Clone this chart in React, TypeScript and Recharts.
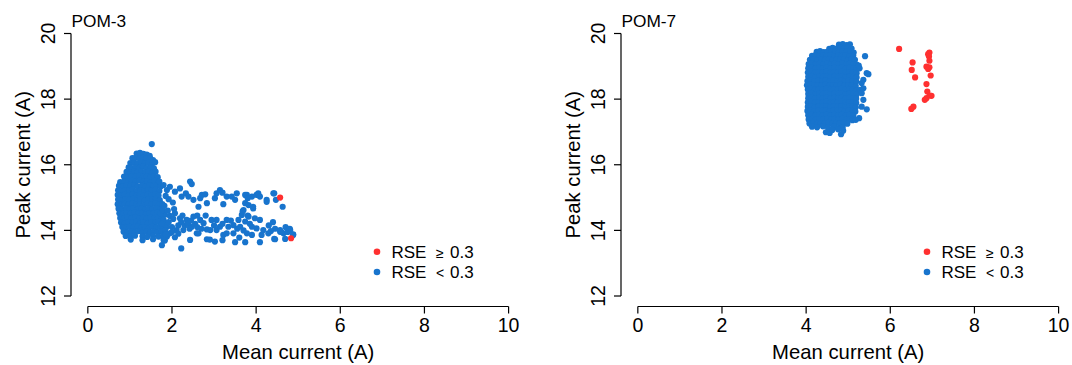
import React from "react";
import { ScatterChart, Scatter, XAxis, YAxis, ReferenceLine } from "recharts";

const FONT = '"Liberation Sans", Arial, Helvetica, sans-serif';
const BLUE = "#1874CD";
const RED = "#FF3030";

const xTicks = [0, 2, 4, 6, 8, 10];
const yTicks = [12, 14, 16, 18, 20];
const xLabel = "Mean current (A)";
const yLabel = "Peak current (A)";
const legendLabels = [
  { op: "\u2265", val: "0.3" },
  { op: "<", val: "0.3" },
];

type Pt = [number, number];

// POM-3, RSE < 0.3
const pom3Blue: Pt[] = [
  [1.52, 16.63],
  [1.16, 16.34], [1.24, 16.36], [1.32, 16.33], [1.40, 16.31], [1.47, 16.27],
  [1.06, 16.20], [1.14, 16.22], [1.23, 16.19], [1.31, 16.21], [1.39, 16.18], [1.48, 16.20], [1.55, 16.14],
  [1.01, 16.05], [1.10, 16.07], [1.19, 16.04], [1.27, 16.08], [1.36, 16.05], [1.44, 16.06], [1.53, 16.03], [1.60, 16.08],
  [0.97, 15.92], [1.05, 15.90], [1.14, 15.93], [1.23, 15.91], [1.31, 15.94], [1.40, 15.90], [1.49, 15.92], [1.57, 15.89],
  [0.92, 15.78], [1.01, 15.76], [1.10, 15.79], [1.18, 15.77], [1.27, 15.80], [1.36, 15.77], [1.44, 15.78], [1.53, 15.76], [1.61, 15.79],
  [0.86, 15.64], [0.95, 15.62], [1.04, 15.65], [1.13, 15.63], [1.22, 15.66], [1.31, 15.63], [1.40, 15.64], [1.48, 15.61], [1.57, 15.65], [1.66, 15.62],
  [0.77, 15.47], [0.87, 15.50], [0.96, 15.48], [1.05, 15.51], [1.14, 15.49], [1.23, 15.52], [1.32, 15.48], [1.41, 15.50], [1.50, 15.47], [1.59, 15.51], [1.68, 15.48],
  [0.74, 15.36], [0.83, 15.34], [0.92, 15.37], [1.01, 15.35], [1.10, 15.38], [1.19, 15.34], [1.28, 15.36], [1.37, 15.33], [1.46, 15.37], [1.55, 15.35], [1.64, 15.38], [1.73, 15.34],
  [0.72, 15.22], [0.80, 15.20], [0.89, 15.23], [0.98, 15.21], [1.07, 15.24], [1.16, 15.20], [1.25, 15.22], [1.34, 15.19], [1.43, 15.23], [1.52, 15.21], [1.61, 15.24], [1.70, 15.20],
  [0.71, 15.08], [0.79, 15.06], [0.88, 15.09], [0.97, 15.07], [1.06, 15.10], [1.15, 15.06], [1.24, 15.08], [1.33, 15.05], [1.42, 15.09], [1.51, 15.07], [1.60, 15.10], [1.68, 15.06],
  [0.72, 14.94], [0.81, 14.92], [0.90, 14.95], [0.99, 14.93], [1.08, 14.96], [1.17, 14.92], [1.26, 14.94], [1.35, 14.91], [1.44, 14.95], [1.53, 14.93], [1.62, 14.96], [1.71, 14.92],
  [0.71, 14.80], [0.79, 14.78], [0.88, 14.81], [0.97, 14.79], [1.06, 14.82], [1.15, 14.78], [1.24, 14.80], [1.33, 14.77], [1.42, 14.81], [1.51, 14.79], [1.60, 14.82], [1.69, 14.78], [1.77, 14.80],
  [0.73, 14.66], [0.82, 14.64], [0.91, 14.67], [1.00, 14.65], [1.09, 14.68], [1.18, 14.64], [1.27, 14.66], [1.36, 14.63], [1.45, 14.67], [1.54, 14.65], [1.63, 14.68], [1.72, 14.64],
  [0.75, 14.52], [0.84, 14.50], [0.93, 14.53], [1.02, 14.51], [1.11, 14.54], [1.20, 14.50], [1.29, 14.52], [1.38, 14.49], [1.47, 14.53], [1.56, 14.51], [1.65, 14.54], [1.74, 14.50], [1.83, 14.48],
  [0.77, 14.38], [0.86, 14.36], [0.95, 14.39], [1.04, 14.37], [1.13, 14.40], [1.22, 14.36], [1.31, 14.38], [1.40, 14.35], [1.49, 14.39], [1.58, 14.37], [1.67, 14.40], [1.76, 14.36],
  [0.79, 14.24], [0.88, 14.22], [0.97, 14.25], [1.06, 14.23], [1.15, 14.26], [1.24, 14.22], [1.33, 14.24], [1.42, 14.21], [1.51, 14.25], [1.60, 14.23], [1.69, 14.26], [1.78, 14.22], [1.87, 14.20],
  [0.82, 14.10], [0.91, 14.08], [1.00, 14.11], [1.09, 14.09], [1.18, 14.12], [1.27, 14.08], [1.36, 14.10], [1.45, 14.07], [1.54, 14.11], [1.63, 14.09], [1.72, 14.12], [1.81, 14.08],
  [0.85, 13.96], [0.94, 13.94], [1.03, 13.97], [1.12, 13.95], [1.21, 13.98], [1.30, 13.94], [1.39, 13.96], [1.48, 13.93], [1.57, 13.97], [1.66, 13.95], [1.75, 13.98],
  [0.90, 13.83], [1.01, 13.81], [1.12, 13.84], [1.30, 13.82], [1.41, 13.80], [1.55, 13.83], [1.68, 13.81], [1.79, 13.84],
  [1.02, 13.72], [1.30, 13.70], [1.55, 13.73], [1.83, 13.69],
  // upper tail band
  [1.70, 15.49], [1.80, 15.38], [1.88, 15.23], [1.95, 15.33], [2.07, 15.18], [2.19, 15.28], [2.23, 15.03], [2.33, 15.13],
  [2.43, 15.49], [2.47, 15.41], [2.39, 15.03], [2.51, 14.93], [2.67, 14.98], [2.71, 15.08], [2.79, 15.10], [2.63, 14.72],
  [2.83, 14.83], [3.02, 14.98], [3.06, 15.13], [3.14, 15.23], [3.20, 15.15], [3.22, 14.80], [3.30, 15.03], [3.42, 15.03],
  [3.50, 14.93], [3.54, 15.13], [3.70, 14.62], [3.74, 14.83], [3.78, 15.08], [3.82, 14.77], [3.90, 15.03], [3.93, 14.67],
  [4.01, 15.08], [4.05, 15.13], [4.09, 15.03], [4.25, 14.93], [4.41, 15.13], [4.47, 14.93], [4.63, 14.72], [4.43, 15.13],
  [3.74, 15.08], [3.80, 14.98], [3.93, 14.72], [4.25, 14.87], [1.92, 14.95], [2.02, 14.85], [1.85, 15.05],
  // lower tail band
  [1.76, 13.55], [1.80, 13.71], [1.88, 13.81], [2.07, 13.79], [2.22, 13.45], [2.43, 13.71], [2.59, 13.91], [2.83, 13.73],
  [3.02, 13.66], [3.06, 14.01], [3.22, 13.86], [3.50, 13.64], [3.74, 13.64], [3.78, 13.91], [3.90, 13.86], [4.09, 13.64],
  [4.13, 13.86], [4.29, 13.91], [4.45, 13.73], [4.57, 14.01], [4.65, 13.91], [4.81, 14.01], [4.88, 13.86], [4.01, 14.06],
  [3.97, 14.37], [3.82, 14.42], [3.66, 14.47], [3.58, 14.32], [3.46, 14.16], [3.34, 14.11], [3.14, 14.11], [2.94, 14.32],
  [2.83, 14.03], [2.67, 14.32], [2.51, 14.42], [2.35, 14.32], [2.19, 14.37], [2.07, 14.52], [1.95, 14.44], [1.88, 14.11],
  [1.80, 14.32], [1.72, 14.52], [2.27, 14.01], [2.47, 14.11], [2.75, 14.22], [2.91, 14.01], [3.30, 14.32], [3.46, 13.91],
  [3.62, 14.11], [3.74, 14.27], [3.90, 14.11], [4.09, 14.32], [4.17, 14.01], [3.30, 13.91], [3.06, 14.32], [2.63, 13.91],
  [2.11, 14.01], [1.95, 13.91], [1.76, 14.20], [1.84, 14.00], [1.92, 14.25], [2.00, 14.10], [2.03, 14.35], [2.15, 14.15],
  [2.22, 14.25], [2.30, 14.15], [2.38, 14.20], [2.42, 14.05], [2.55, 14.20], [2.60, 14.10], [2.70, 14.05], [1.85, 13.88],
  [2.00, 13.95], [2.15, 13.90], [1.78, 14.62], [1.90, 14.60], [1.82, 14.75], [2.05, 14.65], [2.25, 14.45], [2.45, 14.30],
  [2.60, 14.45], [2.80, 14.45], [3.00, 14.15], [3.20, 14.20], [3.40, 14.30], [3.55, 14.05], [3.70, 14.00], [3.85, 14.20],
  [3.60, 13.78], [3.20, 13.70], [2.90, 13.72], [3.80, 14.45], [3.68, 14.58], [4.30, 14.15], [4.45, 14.05], [4.40, 14.25],
  [4.60, 13.95], [4.75, 13.95], [4.70, 14.10], [4.79, 14.03], [4.69, 13.74], [4.43, 13.74], [4.35, 13.98], [4.57, 13.96],
  [4.88, 13.88], [4.80, 14.05],
];

// POM-3, RSE >= 0.3
const pom3Red: Pt[] = [
  [4.57, 15.0],
  [4.83, 13.76],
];

// POM-7, RSE < 0.3
const pom7Blue: Pt[] = [
  [4.78, 19.66], [4.87, 19.68], [4.96, 19.65], [5.04, 19.67],
  [4.55, 19.53], [4.63, 19.56], [4.72, 19.54], [4.81, 19.57], [4.90, 19.55], [4.99, 19.56], [5.08, 19.54],
  [4.25, 19.44], [4.33, 19.46], [4.42, 19.43], [4.51, 19.45], [4.60, 19.44], [4.69, 19.46], [4.78, 19.43], [4.87, 19.45], [4.96, 19.44], [5.05, 19.46], [5.13, 19.42],
  [4.14, 19.32], [4.22, 19.34], [4.31, 19.31], [4.40, 19.33], [4.49, 19.32], [4.58, 19.34], [4.67, 19.31], [4.76, 19.33], [4.85, 19.32], [4.94, 19.34], [5.03, 19.31], [5.12, 19.33],
  [4.09, 19.20], [4.18, 19.22], [4.27, 19.19], [4.36, 19.21], [4.45, 19.20], [4.54, 19.22], [4.63, 19.19], [4.72, 19.21], [4.81, 19.20], [4.90, 19.22], [4.99, 19.19], [5.08, 19.21], [5.16, 19.20],
  [4.06, 19.07], [4.14, 19.09], [4.23, 19.06], [4.32, 19.08], [4.41, 19.07], [4.50, 19.09], [4.59, 19.06], [4.68, 19.08], [4.77, 19.07], [4.86, 19.09], [4.95, 19.06], [5.04, 19.08], [5.13, 19.07], [5.20, 19.05],
  [4.05, 18.94], [4.13, 18.96], [4.22, 18.93], [4.31, 18.95], [4.40, 18.94], [4.49, 18.96], [4.58, 18.93], [4.67, 18.95], [4.76, 18.94], [4.85, 18.96], [4.94, 18.93], [5.03, 18.95], [5.12, 18.94], [5.19, 18.92],
  [4.04, 18.81], [4.12, 18.83], [4.21, 18.80], [4.30, 18.82], [4.39, 18.81], [4.48, 18.83], [4.57, 18.80], [4.66, 18.82], [4.75, 18.81], [4.84, 18.83], [4.93, 18.80], [5.02, 18.82], [5.11, 18.81], [5.20, 18.79],
  [4.05, 18.68], [4.13, 18.70], [4.22, 18.67], [4.31, 18.69], [4.40, 18.68], [4.49, 18.70], [4.58, 18.67], [4.67, 18.69], [4.76, 18.68], [4.85, 18.70], [4.94, 18.67], [5.03, 18.69], [5.12, 18.68], [5.20, 18.66],
  [4.03, 18.55], [4.11, 18.57], [4.20, 18.54], [4.29, 18.56], [4.38, 18.55], [4.47, 18.57], [4.56, 18.54], [4.65, 18.56], [4.74, 18.55], [4.83, 18.57], [4.92, 18.54], [5.01, 18.56], [5.10, 18.55], [5.19, 18.53],
  [4.02, 18.42], [4.10, 18.44], [4.19, 18.41], [4.28, 18.43], [4.37, 18.42], [4.46, 18.44], [4.55, 18.41], [4.64, 18.43], [4.73, 18.42], [4.82, 18.44], [4.91, 18.41], [5.00, 18.43], [5.09, 18.42], [5.18, 18.40],
  [4.04, 18.29], [4.12, 18.31], [4.21, 18.28], [4.30, 18.30], [4.39, 18.29], [4.48, 18.31], [4.57, 18.28], [4.66, 18.30], [4.75, 18.29], [4.84, 18.31], [4.93, 18.28], [5.02, 18.30], [5.11, 18.29], [5.20, 18.27],
  [4.05, 18.16], [4.13, 18.18], [4.22, 18.15], [4.31, 18.17], [4.40, 18.16], [4.49, 18.18], [4.58, 18.15], [4.67, 18.17], [4.76, 18.16], [4.85, 18.18], [4.94, 18.15], [5.03, 18.17], [5.12, 18.16], [5.20, 18.14],
  [4.05, 18.03], [4.13, 18.05], [4.22, 18.02], [4.31, 18.04], [4.40, 18.03], [4.49, 18.05], [4.58, 18.02], [4.67, 18.04], [4.76, 18.03], [4.85, 18.05], [4.94, 18.02], [5.03, 18.04], [5.12, 18.03], [5.19, 18.01],
  [4.04, 17.90], [4.12, 17.92], [4.21, 17.89], [4.30, 17.91], [4.39, 17.90], [4.48, 17.92], [4.57, 17.89], [4.66, 17.91], [4.75, 17.90], [4.84, 17.92], [4.93, 17.89], [5.02, 17.91], [5.11, 17.90], [5.19, 17.88],
  [4.04, 17.77], [4.12, 17.79], [4.21, 17.76], [4.30, 17.78], [4.39, 17.77], [4.48, 17.79], [4.57, 17.76], [4.66, 17.78], [4.75, 17.77], [4.84, 17.79], [4.93, 17.76], [5.02, 17.78], [5.11, 17.77], [5.18, 17.75],
  [4.03, 17.64], [4.11, 17.66], [4.20, 17.63], [4.29, 17.65], [4.38, 17.64], [4.47, 17.66], [4.56, 17.63], [4.65, 17.65], [4.74, 17.64], [4.83, 17.66], [4.92, 17.63], [5.01, 17.65], [5.10, 17.64], [5.17, 17.62],
  [4.05, 17.51], [4.13, 17.53], [4.22, 17.50], [4.31, 17.52], [4.40, 17.51], [4.49, 17.53], [4.58, 17.50], [4.67, 17.52], [4.76, 17.51], [4.85, 17.53], [4.94, 17.50], [5.03, 17.52], [5.12, 17.51],
  [4.06, 17.38], [4.14, 17.40], [4.23, 17.37], [4.32, 17.39], [4.41, 17.38], [4.50, 17.40], [4.59, 17.37], [4.68, 17.39], [4.77, 17.38], [4.86, 17.40], [4.95, 17.37], [5.04, 17.39], [5.10, 17.36],
  [4.08, 17.26], [4.17, 17.28], [4.26, 17.25], [4.35, 17.27], [4.44, 17.26], [4.53, 17.28], [4.62, 17.25], [4.71, 17.27], [4.80, 17.26], [4.89, 17.28], [4.98, 17.25],
  [4.14, 17.16], [4.26, 17.14], [4.40, 17.17], [4.52, 17.13], [4.66, 17.16], [4.78, 17.12], [4.87, 17.15],
  [4.47, 16.99], [4.56, 16.97], [4.62, 17.06], [4.83, 16.93], [4.88, 17.04], [4.76, 17.08],
  [5.40, 19.31], [5.44, 18.79], [5.48, 18.76], [5.36, 18.59], [5.32, 18.49], [5.36, 18.33], [5.28, 18.28], [5.32, 18.18],
  [5.36, 17.98], [5.32, 17.77], [5.44, 17.69], [5.26, 17.42], [5.18, 17.37], [5.27, 18.94], [5.25, 19.02],
];

// POM-7, RSE >= 0.3
const pom7Red: Pt[] = [
  [6.21, 19.53], [6.93, 19.42], [6.90, 19.37], [6.92, 19.30], [6.93, 19.17], [6.53, 19.12], [6.51, 18.89],
  [6.86, 18.99], [6.93, 18.97], [6.90, 18.92], [6.59, 18.66], [6.96, 18.72], [6.86, 18.46], [6.88, 18.23],
  [6.94, 18.11], [6.98, 18.10], [6.86, 18.03], [6.82, 17.98], [6.55, 17.77], [6.50, 17.70],
];

const toObj = (pts: Pt[]) => pts.map(([x, y]) => ({ x, y }));

const XDOM: [number, number] = [-0.4, 10.2];
const YDOM: [number, number] = [11.68, 20.32];

const XTick = (props: any) => {
  const { x, y, payload } = props;
  return (
    <text x={x} y={y} dy="0.71em" textAnchor="middle" fill="#000" fontSize={19.5} fontFamily={FONT}>
      {payload.value}
    </text>
  );
};

const YTick = (props: any) => {
  const { x, y, payload } = props;
  return (
    <text x={x} y={y} transform={`rotate(-90 ${x} ${y})`} textAnchor="middle" fill="#000" fontSize={19.5} fontFamily={FONT}>
      {payload.value}
    </text>
  );
};

const XTitle = (props: any) => {
  const vb = props.viewBox || {};
  const cx = vb.x + vb.width * ((5 - XDOM[0]) / (XDOM[1] - XDOM[0]));
  return (
    <text x={cx} y={vb.y + 52.5} textAnchor="middle" fill="#000" fontSize={20.3} fontFamily={FONT}>
      {xLabel}
    </text>
  );
};

const YTitle = (props: any) => {
  const vb = props.viewBox || {};
  const tx = vb.x + vb.width - 41;
  const cy = vb.y + vb.height / 2;
  return (
    <text x={tx} y={cy} transform={`rotate(-90 ${tx} ${cy})`} textAnchor="middle" fill="#000" fontSize={20.3} fontFamily={FONT}>
      {yLabel}
    </text>
  );
};

const dot = (color: string) => (props: any) => (
  <circle cx={props.cx} cy={props.cy} r={3.1} fill={color} />
);

function Panel({ title, blue, red, left, width }: { title: string; blue: Pt[]; red: Pt[]; left: number; width: number }) {
  return (
    <div style={{ position: "absolute", left, top: 0, width, height: 365 }}>
      <ScatterChart width={width} height={365} margin={{ top: 23, right: width - 517, bottom: 0, left: 0 }}>
        <XAxis
          type="number"
          dataKey="x"
          domain={XDOM}
          allowDataOverflow
          ticks={xTicks}
          axisLine={false}
          tickSize={7}
          tickMargin={5}
          tickLine={{ stroke: "#000", strokeWidth: 1.2 }}
          tick={<XTick />}
          height={58.5}
          interval={0}
          label={<XTitle />}
        />
        <YAxis
          type="number"
          dataKey="y"
          domain={YDOM}
          allowDataOverflow
          ticks={yTicks}
          axisLine={false}
          tickSize={7}
          tickMargin={9.5}
          tickLine={{ stroke: "#000", strokeWidth: 1.2 }}
          tick={<YTick />}
          width={71}
          interval={0}
          label={<YTitle />}
        />
        <ReferenceLine
          segment={[{ x: xTicks[0], y: YDOM[0] }, { x: xTicks[xTicks.length - 1], y: YDOM[0] }]}
          stroke="#000"
          strokeWidth={1.2}
          ifOverflow="visible"
        />
        <ReferenceLine
          segment={[{ x: XDOM[0], y: yTicks[0] }, { x: XDOM[0], y: yTicks[yTicks.length - 1] }]}
          stroke="#000"
          strokeWidth={1.2}
          ifOverflow="visible"
        />
        <Scatter data={toObj(blue)} fill={BLUE} shape={dot(BLUE)} isAnimationActive={false} />
        <Scatter data={toObj(red)} fill={RED} shape={dot(RED)} isAnimationActive={false} />
      </ScatterChart>
      <svg width={width} height={365} style={{ position: "absolute", left: 0, top: 0, pointerEvents: "none" }}>
        <text x={71.5} y={27} fontSize={17.3} fontFamily={FONT} fill="#000">{title}</text>
        {legendLabels.map((l, i) => (
          <g key={i}>
            <circle cx={377} cy={251.7 + i * 20.3} r={3.3} fill={i === 0 ? RED : BLUE} />
            <text x={391.5} y={257.7 + i * 20.3} fontSize={17} fontFamily={FONT} fill="#000">RSE</text>
            <text x={436} y={257.7 + i * 20.3} fontSize={14} fontFamily={FONT} fill="#000">{l.op}</text>
            <text x={450} y={257.7 + i * 20.3} fontSize={17} fontFamily={FONT} fill="#000">{l.val}</text>
          </g>
        ))}
      </svg>
    </div>
  );
}

export default function App() {
  return (
    <div style={{ position: "absolute", left: 0, top: 0, width: 1072, height: 365, background: "#fff", overflow: "hidden" }}>
      <Panel title="POM-3" blue={pom3Blue} red={pom3Red} left={0} width={550} />
      <Panel title="POM-7" blue={pom7Blue} red={pom7Red} left={550} width={522} />
    </div>
  );
}
